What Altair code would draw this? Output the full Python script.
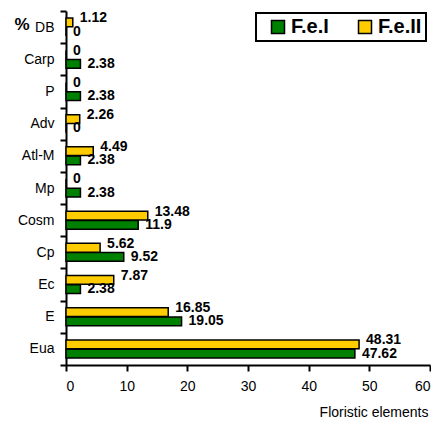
import altair as alt
import pandas as pd

categories = ["DB", "Carp", "P", "Adv", "Atl-M", "Mp", "Cosm", "Cp", "Ec", "E", "Eua"]
series_names = ["F.e.I", "F.e.II"]
fe1 = [0, 2.38, 2.38, 0, 2.38, 2.38, 11.9, 9.52, 2.38, 19.05, 47.62]
fe2 = [1.12, 0, 0, 2.26, 4.49, 0, 13.48, 5.62, 7.87, 16.85, 48.31]
x_ticks = [0, 10, 20, 30, 40, 50, 60]

rows = []
for c, a, b in zip(categories, fe1, fe2):
    rows.append({"cat": c, "series": "F.e.I", "value": a})
    rows.append({"cat": c, "series": "F.e.II", "value": b})
df = pd.DataFrame(rows)

FONT = "Liberation Sans, Arial"

y_enc = alt.Y("cat:N", sort=categories,
              scale=alt.Scale(paddingInner=0, paddingOuter=0),
              axis=alt.Axis(title="%", titleAngle=0, titleAlign="left", titleBaseline="alphabetic",
                            titleX=-52, titleY=18, titleFont=FONT, titleFontSize=17,
                            titleFontWeight="bold", titleColor="black",
                            labelFont=FONT, labelFontSize=14, labelColor="black",
                            labelPadding=6, tickSize=6, tickWidth=2, tickColor="black",
                            tickBand="extent", domainColor="black", domainWidth=2))
yoff_enc = alt.YOffset("series:N", sort=["F.e.II", "F.e.I"],
                       scale=alt.Scale(paddingInner=0.05, paddingOuter=0.77))
x_enc = alt.X("value:Q",
              scale=alt.Scale(domain=[0, 60], nice=False),
              axis=alt.Axis(values=x_ticks, title="Floristic elements", grid=False,
                            titleAnchor="end", titleAlign="right", titleBaseline="alphabetic",
                            titleX=362, titleY=51, titleFont=FONT, titleFontSize=14,
                            titleFontWeight="normal", titleColor="black",
                            labelFont=FONT, labelFontSize=14, labelColor="black",
                            labelPadding=8, tickSize=6, tickWidth=2, tickColor="black",
                            domainColor="black", domainWidth=2))

bars = alt.Chart(df).mark_bar(stroke="black", strokeWidth=1.5).encode(
    x=x_enc,
    y=y_enc,
    yOffset=yoff_enc,
    color=alt.Color("series:N", scale=alt.Scale(domain=series_names, range=["#008000", "#FFCC00"]),
                    legend=alt.Legend(orient="none", legendX=190, legendY=2, direction="horizontal",
                                      title=None, symbolType="square", symbolSize=169,
                                      symbolStrokeColor="black", symbolStrokeWidth=1.5,
                                      labelFont=FONT, labelFontSize=20, labelFontWeight="bold",
                                      labelColor="black", columnPadding=18, padding=4,
                                      symbolOffset=8, labelOffset=3)),
)

def labels(series, dy):
    return alt.Chart(df).transform_filter(alt.datum.series == series).mark_text(
        align="left", baseline="middle", dx=7, dy=dy, font=FONT, fontSize=14,
        fontWeight="bold", color="black"
    ).encode(
        x=alt.X("value:Q", scale=alt.Scale(domain=[0, 60], nice=False)),
        y=alt.Y("cat:N", sort=categories),
        yOffset=alt.YOffset("series:N", sort=["F.e.II", "F.e.I"]),
        text=alt.Text("value:Q", format="~g"),
    )

chart = alt.layer(bars, labels("F.e.II", -4), labels("F.e.I", 0)).properties(
    width=423, height=411,
    autosize=alt.AutoSizeParams(type="fit", contains="padding"),
    padding={"left": 6, "top": -4, "right": 0, "bottom": 0},
).configure_view(stroke=None).configure_legend(strokeColor="black", strokeWidth=2)

chart.save("out.html", embed_options={"renderer": "svg", "actions": False})
